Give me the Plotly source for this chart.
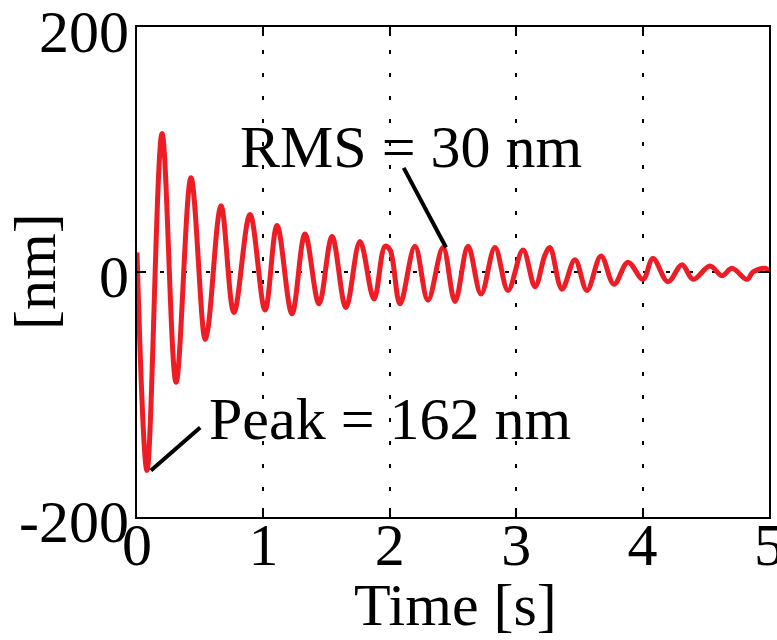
import plotly.graph_objects as go

# Extrema of the displacement trace
time_s = [0.000, 0.079, 0.198, 0.309, 0.427, 0.538, 0.562, 0.665, 0.767, 0.894,
          1.013, 1.108, 1.226, 1.329, 1.440, 1.543, 1.653, 1.764, 1.875, 1.962,
          2.002, 2.081, 2.199, 2.302, 2.421, 2.516, 2.619, 2.722, 2.832, 2.935,
          3.054, 3.149, 3.228, 3.267, 3.362, 3.465, 3.560, 3.671, 3.774, 3.884,
          4.003, 4.082, 4.201, 4.312, 4.399, 4.533, 4.628, 4.707, 4.826, 4.873,
          4.968, 5.000]
disp_nm = [16, -162, 113, -90, 77, -55, -46, 54, -33, 47,
           -31, 38, -34, 31, -26, 29, -29, 25, -22, 21,
           18, -26, 21, -23, 20, -24, 21, -18, 20, -15,
           18, -12, 14, 20, -14, 10, -15, 13, -10, 8,
           -6, 11, -8, 6, -6, 5, -3, 3, -6, 0,
           3, 1]

x_ticks = [0, 1, 2, 3, 4, 5]
y_ticks = [-200, 0, 200]

x_title = "Time [s]"
y_title = "[nm]"
rms_label = "RMS = 30 nm"
peak_label = "Peak = 162 nm"

FONT = "Liberation Serif, Times New Roman, serif"
BIG = dict(family=FONT, size=60, color="black")

fig = go.Figure()
fig.add_trace(go.Scatter(
    x=time_s, y=disp_nm, mode="lines",
    line=dict(color="#ee1c25", width=5, shape="spline", smoothing=1.0),
    showlegend=False, hoverinfo="skip"))

# annotation leader lines
fig.add_shape(type="line", x0=0.11, y0=-162, x1=0.50, y1=-127,
              xref="x", yref="y", line=dict(color="black", width=4))
fig.add_shape(type="line", x0=2.11, y0=85, x1=2.445, y1=20,
              xref="x", yref="y", line=dict(color="black", width=4))

fig.add_annotation(x=0.55, y=-120, xref="x", yref="y", text=peak_label,
                   showarrow=False, xanchor="left", yanchor="middle", font=BIG)
fig.add_annotation(x=0.80, y=102, xref="x", yref="y", text=rms_label,
                   showarrow=False, xanchor="left", yanchor="middle", font=BIG)

# axis titles
fig.add_annotation(x=(455 - 137) / 632, y=-(605 - 517) / 490, xref="paper", yref="paper",
                   text=x_title, showarrow=False, xanchor="center", yanchor="middle", font=BIG)
fig.add_annotation(x=-(137 - 35) / 632, y=0.5, xref="paper", yref="paper",
                   text=y_title, showarrow=False, textangle=-90,
                   xanchor="center", yanchor="middle", font=BIG)

grid_dash = "4px,19px"
common = dict(
    showline=True, linecolor="black", linewidth=2, mirror="ticks",
    ticks="inside", ticklen=9, tickwidth=2, tickcolor="black",
    showgrid=True, gridcolor="black", gridwidth=2, griddash=grid_dash,
    zeroline=False, automargin=False, ticklabeloverflow="allow",
    tickfont=BIG)
fig.update_xaxes(range=[0, 5], tickvals=x_ticks,
                 ticktext=[str(v) for v in x_ticks], ticklabelstandoff=-26, **common)
fig.update_yaxes(range=[-200, 200], tickvals=y_ticks,
                 ticktext=[str(v) for v in y_ticks], ticklabelstandoff=-6,
                 ticklabelshift=4, **common)

fig.update_layout(
    width=777, height=640,
    margin=dict(l=137, r=8, t=27, b=123),
    plot_bgcolor="white", paper_bgcolor="white",
    font=BIG)

fig.write_html("out.html",
               config={"displayModeBar": False},
               post_script="document.body.style.margin='0';document.body.style.overflow='hidden';")
